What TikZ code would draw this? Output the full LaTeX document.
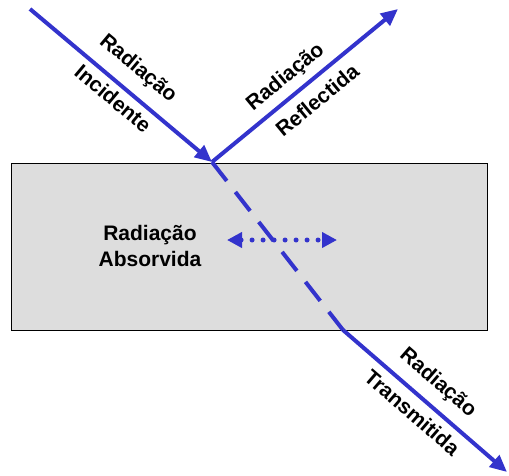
\documentclass[tikz,border=0pt]{standalone}
\usepackage{fontspec}
\setmainfont{Liberation Sans}
\usetikzlibrary{arrows.meta}
\definecolor{azulRaio}{RGB}{51,51,204}
\definecolor{cinzaBloco}{RGB}{221,221,221}
\tikzset{
  rd/slab/.style={rectangle, draw=black, fill=cinzaBloco,
    minimum width=476pt, minimum height=167pt, inner sep=0pt,
    line width=0.8pt},
  rd/ray/.style={draw=azulRaio, line width=4pt,
    -{Triangle[length=17pt,width=15pt]}},
  rd/inside/.style={draw=azulRaio, line width=4pt,
    dash pattern=on 24pt off 14pt},
  rd/abs/.style={draw=azulRaio, line width=5pt, line cap=round,
    dash pattern=on 0pt off 11pt,
    {Triangle[length=15pt,width=15pt]}-{Triangle[length=15pt,width=15pt]}},
  rd/lbl/.style={font=\fontsize{21}{25}\selectfont\bfseries,
    sloped, inner sep=0pt},
  rd/txt/.style={font=\fontsize{21}{26}\selectfont\bfseries,
    align=center, inner sep=0pt}
}

\begin{document}
\begin{tikzpicture}[x=1pt, y=-1pt]
  \useasboundingbox (0,0) rectangle (509,475);
  \node[rd/slab] (slab) at (249,246.5) {};
  \node[rd/txt] (absTxt) at (150,246) {Radiação\\Absorvida};

  \coordinate (src)   at (30,9);
  \coordinate (hit)   at (212,162);
  \coordinate (refl)  at (398,9);
  \coordinate (exit)  at (343,330);
  \coordinate (trans) at (507,472);
  \coordinate (absL)  at (227,240);
  \coordinate (absR)  at (337,240);

  \draw[rd/ray] (src) --
    node[rd/lbl, pos=0.51, yshift=23.5pt] (incA) {Radiação}
    node[rd/lbl, pos=0.51, yshift=-15pt] (incB) {Incidente} (hit);
  \draw[rd/ray] (hit) --
    node[rd/lbl, pos=0.46, yshift=18.5pt] (refA) {Radiação}
    node[rd/lbl, pos=0.50, yshift=-19pt] (refB) {Reflectida} (refl);
  \draw[rd/inside] (hit) -- (exit);
  \draw[rd/ray] (exit) --
    node[rd/lbl, pos=0.49, yshift=22pt] (traA) {Radiação}
    node[rd/lbl, pos=0.49, yshift=-17pt] (traB) {Transmitida} (trans);
  \draw[rd/abs] (absL) -- (absR);
\end{tikzpicture}
\end{document}
